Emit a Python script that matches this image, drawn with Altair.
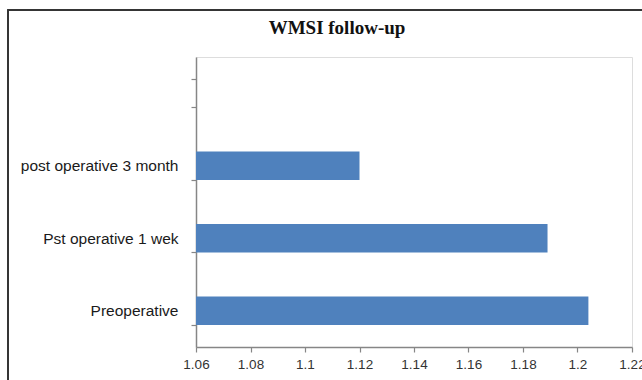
import altair as alt
import pandas as pd

title_text = "WMSI follow-up"
categories = ["post operative 3 month", "Pst operative 1 wek", "Preoperative"]
values = [1.12, 1.189, 1.204]
x_ticks = [1.06, 1.08, 1.10, 1.12, 1.14, 1.16, 1.18, 1.20, 1.22]

df = pd.DataFrame({"phase": categories, "wmsi": values})
y_domain = [" "] + categories

bars = alt.Chart(df).mark_bar(color="#4F81BD").encode(
    y=alt.Y("phase:N", scale=alt.Scale(domain=y_domain, paddingInner=0.61, paddingOuter=0.305),
            axis=alt.Axis(title=None, tickBand="extent", domainColor="#868686", tickColor="#868686",
                          tickSize=5, labelPadding=13, labelFont="Liberation Sans", labelFontSize=15.5,
                          labelColor="#1a1a1a", labelLimit=300, domainWidth=1.5, tickWidth=1.2)),
    x=alt.X("wmsi:Q", scale=alt.Scale(domain=[1.06, 1.22], zero=False, nice=False),
            axis=alt.Axis(title=None, values=x_ticks, grid=False, domainColor="#868686", tickColor="#868686",
                          tickSize=5, labelFont="Liberation Sans", labelFontSize=13.5, labelColor="#333333",
                          labelPadding=5, domainWidth=1.5, tickWidth=1.2,
                          labelExpr="format(datum.value, '.2~f')", labelFlush=False)),
    x2=alt.X2(datum=1.06),
)

title = alt.Chart(pd.DataFrame({"t": [title_text]})).mark_text(
    font="Liberation Serif", fontSize=19, fontWeight="bold", color="#111111",
    align="center", baseline="middle"
).encode(text="t:N", x=alt.value(141), y=alt.value(-29))

frame = alt.Chart(df).mark_rect(fill=None, stroke="#333333", strokeWidth=1.5).encode(
    x=alt.value(-188), x2=alt.value(700), y=alt.value(-47), y2=alt.value(500)
)

chart = alt.layer(bars, title, frame).properties(
    width=436, height=290,
    padding={"left": 196, "top": 57, "right": 10, "bottom": 33},
    autosize=alt.AutoSizeParams(type="none"),
).configure_view(strokeWidth=0, stroke="transparent").configure(background="white")

chart.save("out.html", embed_options={"renderer": "svg", "actions": False})
